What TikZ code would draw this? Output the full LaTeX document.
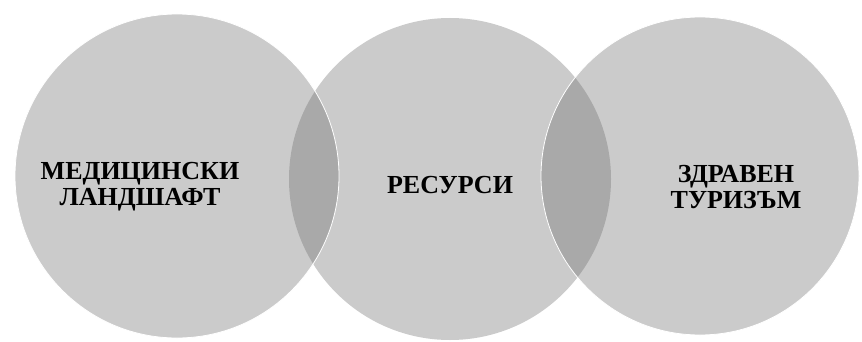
\documentclass[tikz,border=0pt]{standalone}
\usepackage{fontspec}
\setmainfont{Liberation Serif}
\usetikzlibrary{positioning,calc}

\begin{document}
\begin{tikzpicture}[x=1pt, y=1pt, every node/.style={font=\fontsize{26}{26}\selectfont\bfseries},
  disc/.style={circle, inner sep=0pt, fill=black!60, fill opacity=0.34},
  rim/.style={disc, draw=white, line width=0.8pt, draw opacity=1},
  lbl/.style={align=center, text=black, text opacity=1, inner sep=0pt}]
\useasboundingbox (0,0) rectangle (862,341);
\node (res) [disc, minimum size=322] at (450,162) {};
\node (med) [rim, minimum size=324] at (177,165) {};
\node (tur) [rim, minimum size=318] at (700,165) {};
\node (medtxt) [lbl] at ($(med.center)+(-37,-11)$) {МЕДИЦИНСКИ\\ЛАНДШАФТ};
\node (restxt) [lbl] at ($(res.center)+(0,-6)$) {РЕСУРСИ};
\node (turtxt) [lbl] at ($(tur.center)+(36,-11)$) {ЗДРАВЕН\\ТУРИЗЪМ};
\end{tikzpicture}
\end{document}
